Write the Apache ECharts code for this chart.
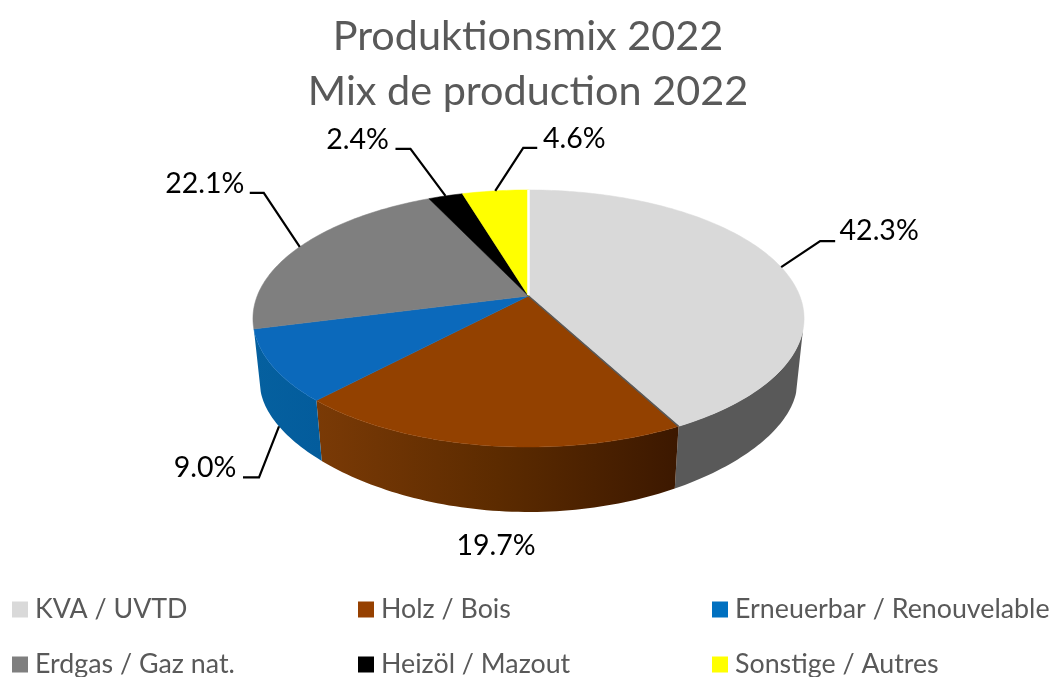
<!DOCTYPE html>
<html>
<head>
<meta charset="utf-8">
<style>html,body{margin:0;padding:0;background:#fff}#c{width:1056px;height:677px}</style>
<script src="https://cdn.jsdelivr.net/npm/echarts@6/dist/echarts.min.js"></script>
</head>
<body>
<div id="c"></div>
<script>
const titleLines = ['Produktionsmix 2022', 'Mix de production 2022'];
const categories = ['KVA / UVTD', 'Holz / Bois', 'Erneuerbar / Renouvelable', 'Erdgas / Gaz nat.', 'Heizöl / Mazout', 'Sonstige / Autres'];
const shares = [42.3, 19.7, 9.0, 22.1, 2.4, 4.6];

const topColors = ['#d9d9d9', '#934100', '#0b69bb', '#7f7f7f', '#000000', '#ffff00'];
const legendColors = ['#d9d9d9', '#964000', '#0070c0', '#7f7f7f', '#000000', '#ffff00'];
const wallStops = [['#595959', '#595959'], ['#7a3a06', '#5c2b00', '#3c1800'], ['#05609f', '#035c9c'], null, null, null];
const legendPos = [[12, 596], [358, 596], [712, 596], [12, 651], [358, 651], [712, 651]];
// leader elbow and end, relative to the rim anchor; label centre relative to the end of the leader
const leaders = [
  {elbow: [39, -26], end: [54, -26], text: [44, -10], bottom: false},
  {text: [0, 0], fixed: [496, 546]},
  {elbow: [-20, 51], end: [-36, 51], text: [-38, -10], bottom: true},
  {elbow: [-36, -54], end: [-50, -54], text: [-45, -9], bottom: false},
  {elbow: [-35, -47], end: [-50, -47], text: [-38, -9], bottom: false},
  {elbow: [28, -43], end: [42, -43], text: [37, -9], bottom: false}
];

const CX = 528.5, Y0 = 296, A = 271.3, B = 124.6, P = 0.175;
const A2 = 264.5, B2 = 104, Y2 = 363.4, P2 = 0.3;
const WALL_FROM = 105 * Math.PI / 180, WALL_TO = 265 * Math.PI / 180;
const total = shares.reduce((s, v) => s + v, 0);
const cum = [0];
shares.forEach((v, i) => cum.push(cum[i] + v / total * Math.PI * 2));

function topPt(t) {
  const u = Math.sin(t), v = -Math.cos(t), w = 1 - P * v;
  return [CX + A * u / w, Y0 + B * v / w];
}
function botPt(t) {
  const u = Math.sin(t), v = -Math.cos(t);
  return [CX + A2 * u / (1 - P * v), Y2 + B2 * v / (1 - P2 * v)];
}
function arc(fn, a, b) {
  const pts = [], n = Math.max(2, Math.ceil(Math.abs(b - a) / 0.02));
  for (let k = 0; k <= n; k++) pts.push(fn(a + (b - a) * k / n));
  return pts;
}

function renderSlice(params, api) {
  const i = params.seriesIndex;
  const a = cum[i], b = cum[i + 1], mid = (a + b) / 2;
  const children = [];
  const ws = Math.max(a, WALL_FROM), we = Math.min(b, WALL_TO);
  if (wallStops[i] && we > ws) {
    const stops = wallStops[i].map((c, k, arr) => ({offset: k / (arr.length - 1), color: c}));
    children.push({
      type: 'polygon', z2: 1,
      shape: {points: arc(topPt, ws, we).concat(arc(botPt, we, ws))},
      style: {fill: new echarts.graphic.LinearGradient(0, 0, 1, 0, stops)}
    });
  }
  const c = topColors[i];
  children.push({
    type: 'polygon', z2: 10,
    shape: {points: [[CX, Y0]].concat(arc(topPt, a, b))},
    style: {fill: c, stroke: c, lineWidth: 0.5}
  });
  if (i === 0) {
    children.push({type: 'line', z2: 12, shape: {x1: CX, y1: Y0 - 1, x2: topPt(0)[0], y2: topPt(0)[1]},
      style: {stroke: '#ffffff', lineWidth: 2.5}});
    const e = topPt(b);
    children.push({type: 'line', z2: 12, shape: {x1: CX, y1: Y0, x2: e[0], y2: e[1]},
      style: {stroke: '#595959', lineWidth: 1.6}});
  }
  const L = leaders[i];
  let tx, ty;
  if (L.fixed) {
    [tx, ty] = L.fixed;
  } else {
    const p = L.bottom ? botPt(mid) : topPt(mid);
    const elbow = [p[0] + L.elbow[0], p[1] + L.elbow[1]];
    const end = [p[0] + L.end[0], p[1] + L.end[1]];
    children.push({type: 'polyline', z2: 20, shape: {points: [p, elbow, end]},
      style: {stroke: '#000000', lineWidth: 2.2, fill: null}});
    tx = end[0] + L.text[0];
    ty = end[1] + L.text[1];
  }
  children.push({type: 'text', z2: 30, x: tx, y: ty,
    style: {text: shares[i].toFixed(1) + '%', fill: '#000000', font: '28.5px Lato', align: 'center', verticalAlign: 'middle'}});
  return {type: 'group', children};
}

const chart = echarts.init(document.getElementById('c'), null, {renderer: 'canvas'});
chart.setOption({
  animation: false,
  backgroundColor: '#ffffff',
  textStyle: {fontFamily: 'Lato'},
  title: {
    text: titleLines.join('\n'), left: 523, top: 4, textAlign: 'center',
    textStyle: {fontFamily: 'Lato', fontSize: 41.4, fontWeight: 'normal', color: '#595959', lineHeight: 55}
  },
  legend: categories.map((name, i) => ({
    data: [name], left: legendPos[i][0], top: legendPos[i][1], padding: 0,
    itemWidth: 16, itemHeight: 16, selectedMode: false, icon: 'rect',
    textStyle: {fontFamily: 'Lato', fontSize: 26.8, color: '#595959', padding: [0, 0, 0, 2]}
  })),
  series: categories.map((name, i) => ({
    type: 'custom', name, coordinateSystem: 'none', silent: true,
    itemStyle: {color: legendColors[i]},
    data: [[shares[i]]],
    renderItem: renderSlice
  }))
});
</script>
</body>
</html>
